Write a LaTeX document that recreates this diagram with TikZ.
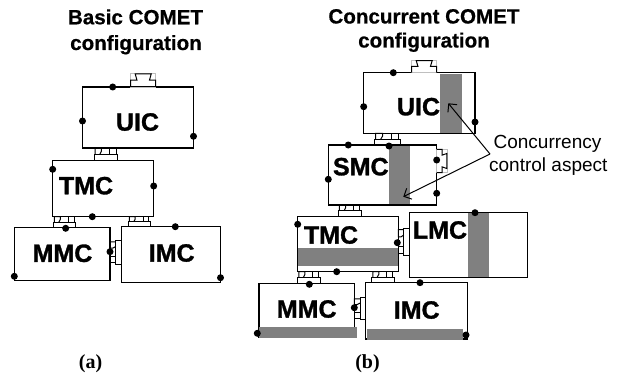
\documentclass[tikz,border=0pt]{standalone}
\usepackage{fontspec}
\setmainfont{Liberation Sans}
\newfontfamily\heavy[FakeBold=1.2]{Liberation Sans Bold}
\newfontfamily\semiheavy[FakeBold=0.6]{Liberation Sans Bold}
\newfontfamily\serifb{Liberation Serif}
\usetikzlibrary{arrows.meta}
\tikzset{
  box/.style={draw, line width=1.4pt, inner sep=0pt, outer sep=0pt, anchor=north west},
  lbl/.style={font=\fontsize{25}{29}\selectfont\heavy, inner sep=0pt},
  ttl/.style={font=\fontsize{20.6}{25}\selectfont\semiheavy, inner sep=0pt, anchor=base},
  note/.style={font=\fontsize{19}{23}\selectfont, inner sep=0pt, anchor=base},
  sub/.style={font=\fontsize{20}{24}\selectfont\serifb\bfseries, inner sep=0pt, anchor=base},
  dot/.style={circle, fill=black, inner sep=0pt, minimum size=7pt},
  bar/.style={fill=black!50},
  arr/.style={line width=1pt, -{Straight Barb[length=6pt,width=12pt,line width=1pt]}},
  jl/.style={line width=1pt},
  jh/.pic={
    \draw[jl] (0,1)--(0,0.5)--(1,0.5)--(1,1);
    \draw[jl] (0.05,0.5)--(0.05,0)--(0.32,0)--(0.32,0.25)--(0.25,0.5);
    \draw[jl] (0.95,0.5)--(0.95,0)--(0.68,0)--(0.68,0.5);
  },
  jv/.pic={
    \draw[jl] (1,0)--(0.5,0)--(0.5,1)--(1,1);
    \draw[jl] (0.5,0.05)--(0,0.05)--(0,0.32)--(0.25,0.32)--(0.5,0.25);
    \draw[jl] (0.5,0.95)--(0,0.95)--(0,0.68)--(0.5,0.68);
  },
  pu/.pic={
    \draw[black!25, line width=0.7pt] (0,0) rectangle (1,1);
    \draw[jl] (0,1)--(0,0.5)--(0.25,0.5)--(0.18,0.05)--(0.82,0.05)--(0.75,0.5)--(1,0.5)--(1,1);
  },
  pr/.pic={
    \draw[black!25, line width=0.7pt] (0,0) rectangle (1,1);
    \draw[jl] (0,0)--(0.5,0)--(0.5,0.25)--(0.95,0.18)--(0.95,0.82)--(0.5,0.75)--(0.5,1)--(0,1);
  }
}
\begin{document}
\begin{tikzpicture}[x=1pt,y=-1pt]
\useasboundingbox (0,0) rectangle (618,377);

% ---------- titles ----------
\node[ttl] (tA1) at (135.5,24.3) {Basic COMET};
\node[ttl] (tA2) at (136,50) {configuration};
\node[ttl] (tB1) at (424,23.5) {Concurrent COMET};
\node[ttl] (tB2) at (424,47.5) {configuration};

% ---------- (a) ----------
\node[box, minimum width=111pt, minimum height=61pt] (uicA) at (82.5,87) {};
\node[box, minimum width=101pt, minimum height=56pt] (tmcA) at (52.7,160.7) {};
\node[box, minimum width=95.7pt, minimum height=52.6pt] (mmcA) at (14.3,227.7) {};
\node[box, minimum width=99.2pt, minimum height=56pt] (imcA) at (121.3,226.7) {};

\pic[xscale=25,yscale=13.7] at (130.7,73.3) {pu};
\pic[xscale=23.3,yscale=12.7] at (94,148) {jh};
\pic[xscale=22,yscale=11] at (53.3,216.7) {jh};
\pic[xscale=21.7,yscale=10] at (128.3,216.7) {jh};
\pic[xscale=11.3,yscale=23.3] at (110,240.7) {jv};

\node[lbl] (uicAt) at (137.5,122) {UIC};
\node[lbl] (tmcAt) at (86,185.7) {TMC};
\node[lbl] (mmcAt) at (62.5,253.3) {MMC};
\node[lbl] (imcAt) at (171.7,253) {IMC};

\foreach \p in {(112.7,87),(82.5,121),(193.5,136.3),(52.7,169.3),(153.7,186),(92.3,216.7),(65.7,228.3),(14.3,276.3),(110,251.7),(175.3,226.7),(220.5,277.7)}
  \node[dot] at \p {};

% ---------- (b) ----------
\fill[bar] (440,74) rectangle (461.7,133);
\fill[bar] (389,145.5) rectangle (410,204.5);
\fill[bar] (298,248) rectangle (398,266);
\fill[bar] (467.7,213) rectangle (489.3,277);

\node[box, minimum width=111.3pt, minimum height=60.6pt] (uicB) at (363.7,72.7) {};
\node[box, minimum width=108.4pt, minimum height=60pt] (smcB) at (328.3,145) {};
\node[box, minimum width=100.6pt, minimum height=55pt] (tmcB) at (297.7,216.7) {};
\node[box, minimum width=118pt, minimum height=65pt] (lmcB) at (409.3,212.5) {};
\node[box, minimum width=95.3pt, minimum height=53.7pt] (mmcB) at (259,283.3) {};
\node[box, minimum width=101.8pt, minimum height=56.7pt] (imcB) at (365.7,282.3) {};

\fill[bar] (259,326.7) rectangle (356.7,337.5);
\fill[bar] (366.7,329) rectangle (462.7,339.5);

\pic[xscale=25,yscale=12.7] at (411.7,60) {pu};
\pic[xscale=25.7,yscale=11.7] at (374.3,133.3) {jh};
\pic[xscale=10.6,yscale=23.4] at (436.7,149.3) {pr};
\pic[xscale=22.7,yscale=11.7] at (338.3,205) {jh};
\pic[xscale=11,yscale=26.7] at (398.3,228.3) {jv};
\pic[xscale=22.3,yscale=11.6] at (297.7,271.7) {jh};
\pic[xscale=22.3,yscale=10.6] at (371.7,271.7) {jh};
\pic[xscale=11.4,yscale=21.6] at (354.3,297.7) {jv};

\node[lbl] (uicBt) at (418.5,106.7) {UIC};
\node[lbl] (smcBt) at (360.8,166.7) {SMC};
\node[lbl] (tmcBt) at (331,235) {TMC};
\node[lbl] (lmcBt) at (440,230) {LMC};
\node[lbl] (mmcBt) at (306.7,309) {MMC};
\node[lbl] (imcBt) at (416.7,310) {IMC};

\foreach \p in {(393.3,72.7),(363.7,106.7),(475,122),(348.3,145),(389,146),(328.3,179.3),(436.7,160),(436.7,193.3),(297.7,224.3),(397.3,242.7),(336.7,271.7),(475,212.7),(309.3,284.3),(257.3,333.3),(354.3,307.7),(420,282.7),(466,335)}
  \node[dot] at \p {};

% ---------- annotation ----------
\node[note] (cc1) at (547.5,148.3) {Concurrency};
\node[note] (cc2) at (548.3,171.7) {control aspect};
\coordinate (v) at (490,154);
\coordinate (tipU) at (448.3,103.3);
\coordinate (tipS) at (403.3,196.7);
\draw[arr] (v) -- (tipU);
\draw[arr] (v) -- (tipS);

% ---------- sub labels ----------
\node[sub] (la) at (90.5,368.5) {(a)};
\node[sub] (lb) at (367.5,368.5) {(b)};
\end{tikzpicture}
\end{document}
